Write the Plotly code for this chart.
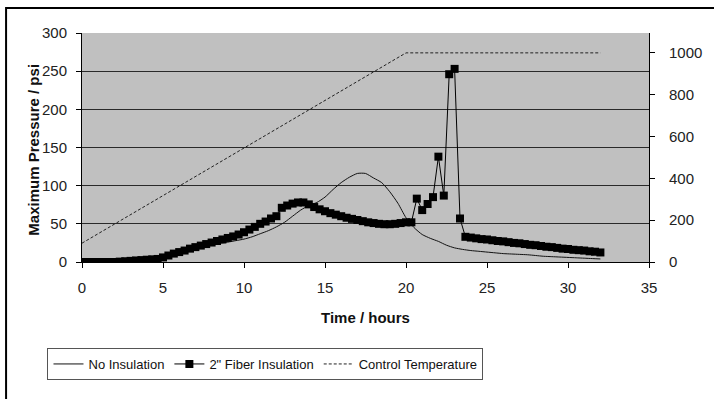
import plotly.graph_objects as go

# ---------------- data ----------------
# Fiber insulation: readings every 20 minutes (k/3 hours), k = 0..96
fiber_k = list(range(0, 97))
fiber_psi = [
    0, 0, 0, 0, 0, 0, 0, 0.5, 1,            # 0 .. 2.67
    1.5, 2, 2.5, 3, 3.5, 4,                  # 3.0 .. 4.67
    6, 8.5, 11, 13, 15, 17.5, 19.5, 21.5, 23.5, 25.5, 27.5, 29.5,  # 5.0 .. 8.67
    31.5, 33.5, 36, 39, 42.5, 46, 50, 53, 57, 60,                  # 9.0 .. 12.0
    71, 74, 76.5, 78, 78, 75.5, 72, 69, 66.5, 64, 62, 60,          # 12.33 .. 16.0
    58, 56.5, 55, 53.5, 52, 51, 50, 49.5, 49.5, 50, 51, 52, 52,    # 16.33 .. 20.33
    83, 68, 76, 85, 138, 87, 246, 253, 57, 33,                     # 20.67 .. 23.67
    32, 31, 30, 29.5, 28.5, 27.5, 27, 26, 25, 24.5, 23.5, 22.5,    # 24.0 .. 27.67
    22, 21, 20, 19.5, 18.5, 17.5, 17, 16, 15.5, 15, 14, 13.5, 12.5 # 28.0 .. 32.0
]
fiber_time = [k / 3 for k in fiber_k]

# No insulation: every half hour, 0 .. 32
noins_time = [i * 0.5 for i in range(65)]
noins_psi = [
    0, 0, 0, 0, 0, 0, 0, 0.3, 0.6, 1,        # 0 .. 4.5
    3, 7, 11, 14, 17, 20, 22.5, 24.5, 26, 28, # 5 .. 9.5
    30, 33, 37, 41, 46, 52, 60, 68, 74, 78,   # 10 .. 14.5
    85, 95, 104, 111, 116, 116, 110, 104, 92, 77,  # 15 .. 19.5
    58, 45, 36, 31, 27, 22, 18.5, 16.5, 15, 14,    # 20 .. 24.5
    13, 12, 11, 10.5, 10, 9.5, 8.5, 7.5, 7, 6.5,   # 25 .. 29.5
    6, 5.5, 5, 4.5, 4                              # 30 .. 32
]

# Control temperature (right axis)
ctrl_time = [0, 20, 32]
ctrl_temp = [90, 1000, 1000]

x_ticks = [0, 5, 10, 15, 20, 25, 30, 35]
y_ticks = [0, 50, 100, 150, 200, 250, 300]
y2_ticks = [0, 200, 400, 600, 800, 1000]

FONT = "Arial, Liberation Sans, sans-serif"

fig = go.Figure()
fig.add_trace(go.Scatter(
    x=noins_time, y=noins_psi, name="No Insulation", mode="lines",
    line=dict(color="#111111", width=1, shape="spline", smoothing=0.6),
))
fig.add_trace(go.Scatter(
    x=fiber_time, y=fiber_psi, name='2" Fiber Insulation', mode="lines+markers",
    line=dict(color="#000000", width=1),
    marker=dict(symbol="square", size=8, color="#000000"),
))
fig.add_trace(go.Scatter(
    x=ctrl_time, y=ctrl_temp, name="Control Temperature", mode="lines",
    line=dict(color="#222222", width=1, dash="3px,2px"), yaxis="y2",
))

L, R, T, B = 82, 57, 33, 137
W, H = 714, 399
pw, ph = W - L - R, H - T - B

def px_x(p):
    return (p - L) / pw

def px_y(p):
    return (H - B - p) / ph

fig.update_layout(
    width=W, height=H,
    margin=dict(l=L, r=R, t=T, b=B, pad=0),
    paper_bgcolor="white", plot_bgcolor="#c0c0c0",
    font=dict(family=FONT, size=15, color="#222222"),
    showlegend=True,
    legend=dict(
        orientation="h", x=px_x(47), y=px_y(348), xanchor="left", yanchor="top",
        bgcolor="white", bordercolor="#555555", borderwidth=1,
        font=dict(family=FONT, size=13, color="#111111"),
        itemwidth=30, tracegroupgap=0,
    ),
    xaxis=dict(
        range=[0, 35], tickvals=x_ticks, showgrid=False, zeroline=False,
        showline=True, linecolor="#000000", linewidth=1,
        ticks="outside", ticklen=5, tickcolor="#000000",
        ticklabelstandoff=7, mirror=False,
    ),
    yaxis=dict(
        range=[0, 300], tickvals=y_ticks, showgrid=True, gridcolor="#2a2a2a",
        gridwidth=1, zeroline=False, showline=True, linecolor="#000000",
        linewidth=1, ticks="outside", ticklen=5, tickcolor="#000000",
        ticklabelstandoff=6,
    ),
    yaxis2=dict(
        range=[0, 1095], tickvals=y2_ticks, overlaying="y", side="right",
        showgrid=False, zeroline=False, showline=True, linecolor="#000000",
        linewidth=1, ticks="outside", ticklen=5, tickcolor="#000000",
        ticklabelstandoff=11,
    ),
    annotations=[
        dict(text="<b>Time / hours</b>", x=px_x(370), y=px_y(317),
             xref="paper", yref="paper", showarrow=False,
             xanchor="center", yanchor="middle",
             font=dict(family=FONT, size=15, color="#111111")),
        dict(text="<b>Maximum Pressure / psi</b>", x=px_x(32), y=px_y(150),
             xref="paper", yref="paper", showarrow=False, textangle=-90,
             xanchor="center", yanchor="middle",
             font=dict(family=FONT, size=15, color="#111111")),
    ],
    shapes=[
        dict(type="rect", xref="paper", yref="paper",
             x0=px_x(5), x1=px_x(740), y0=px_y(430), y1=px_y(8),
             line=dict(color="#000000", width=2), fillcolor="rgba(0,0,0,0)",
             layer="below"),
    ],
)

fig.write_html("out.html")
